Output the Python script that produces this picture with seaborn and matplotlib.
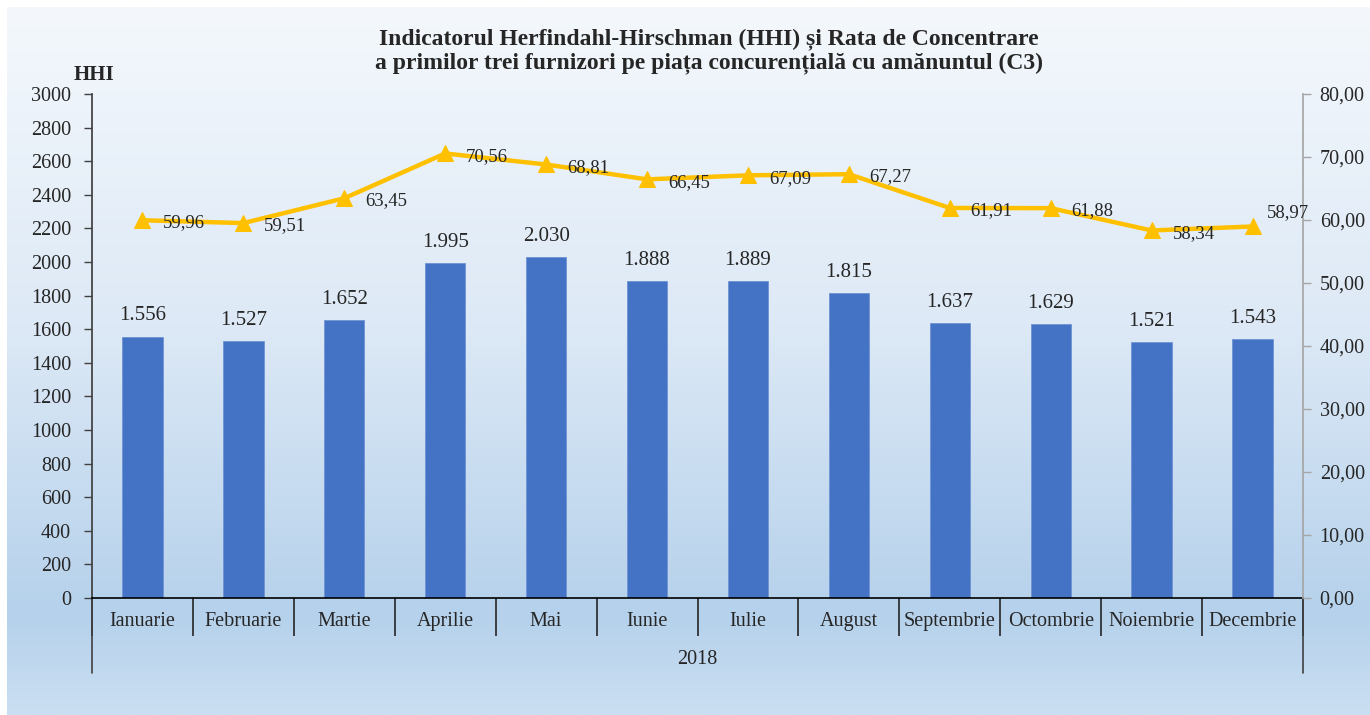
import numpy as np
import pandas as pd
import matplotlib
matplotlib.use("Agg")
import matplotlib.pyplot as plt
import seaborn as sns
from matplotlib.colors import LinearSegmentedColormap

# chart data
months = ['Ianuarie', 'Februarie', 'Martie', 'Aprilie', 'Mai', 'Iunie', 'Iulie',
          'August', 'Septembrie', 'Octombrie', 'Noiembrie', 'Decembrie']
hhi = [1556, 1527, 1652, 1995, 2030, 1888, 1889, 1815, 1637, 1629, 1521, 1543]
c3 = [59.96, 59.51, 63.45, 70.56, 68.81, 66.45, 67.09, 67.27, 61.91, 61.88, 58.34, 58.97]
year_label = '2018'
hhi_ticks = list(range(0, 3001, 200))
c3_ticks = list(range(0, 81, 10))

title = ('Indicatorul Herfindahl-Hirschman (HHI) și Rata de Concentrare\n'
         'a primilor trei furnizori pe piața concurențială cu amănuntul (C3)')

sns.set_theme(style="white")
plt.rcParams['font.family'] = ['Liberation Serif', 'DejaVu Serif']

W, H = 1370, 715
fig = plt.figure(figsize=(W / 100, H / 100), dpi=100)
fig.patch.set_facecolor('white')

# gradient background (top white-ish -> light blue)
bg = fig.add_axes([7 / W, 0, 1 - 7 / W, 1 - 7 / H], zorder=-10)
grad_cmap = LinearSegmentedColormap.from_list(
    'bg', [(0.0, '#f4f8fc'), (0.45, '#dde9f6'), (0.86, '#b5d1eb'), (1.0, '#cbdff2')])
bg.imshow(np.linspace(0, 1, 256).reshape(-1, 1), aspect='auto', cmap=grad_cmap,
          extent=[0, 1, 0, 1])
bg.set_axis_off()

left, right, top, bottom = 92, 1303, 94, 598
ax = fig.add_axes([left / W, 1 - bottom / H, (right - left) / W, (bottom - top) / H])
ax.patch.set_alpha(0)

df = pd.DataFrame({'luna': months, 'HHI': hhi, 'C3': c3})

sns.barplot(data=df, x='luna', y='HHI', color='#4472C4', width=0.4, saturation=1,
            edgecolor='#6f93d3', linewidth=0.6, ax=ax, zorder=2)
ax.set_ylim(0, 3000)
ax.set_xlim(-0.5, len(months) - 0.5)
ax.set_yticks(hhi_ticks)
ax.set_yticklabels([str(t) for t in hhi_ticks], fontsize=14.5)
ax.set_xlabel('')
ax.set_ylabel('')
ax.tick_params(axis='y', which='major', direction='out', length=6, width=1,
               color='#404040', pad=9, left=True)
ax.tick_params(axis='x', which='major', length=0, pad=10, labelsize=14.5)
ax.set_xticks(np.arange(-0.5, len(months), 1.0), minor=True)
ax.tick_params(axis='x', which='minor', direction='out', length=27, width=1.2,
               color='#262626', bottom=True)

for s in ['top', 'right']:
    ax.spines[s].set_visible(False)
ax.spines['left'].set_color('#404040')
ax.spines['bottom'].set_color('black')
ax.spines['bottom'].set_linewidth(1.2)

for i, v in enumerate(hhi):
    ax.annotate(f'{v:,}'.replace(',', '.'), (i, v), xytext=(0, 8),
                textcoords='offset points', ha='center', va='bottom', fontsize=15)

# lower category level lines and year label
ext = -75 / (bottom - top)
ax.plot([0, 0], [0, ext], transform=ax.transAxes, color='#404040', lw=1.2, clip_on=False)
ax.plot([1, 1], [0, ext], transform=ax.transAxes, color='#404040', lw=1.2, clip_on=False)
ax.text(0.5, -62 / (bottom - top), year_label, transform=ax.transAxes,
        ha='center', va='center', fontsize=14.5)

# secondary axis with C3
ax2 = ax.twinx()
sns.lineplot(x=np.arange(len(months)), y=c3, ax=ax2, color='#FFC000', linewidth=3.2,
             marker='^', markersize=12, markeredgecolor='#FFC000', zorder=3)
ax2.set_ylim(0, 80)
ax2.set_xlim(-0.5, len(months) - 0.5)
ax2.set_yticks(c3_ticks)
ax2.set_yticklabels([f'{t:.2f}'.replace('.', ',') for t in c3_ticks], fontsize=14.5)
ax2.tick_params(axis='y', direction='out', length=6, width=1, color='#a6a6a6',
                pad=6, right=True)
for s in ['top', 'left', 'bottom']:
    ax2.spines[s].set_visible(False)
ax2.spines['right'].set_color('#a6a6a6')

for i, v in enumerate(c3):
    off = (10, 10) if i == len(c3) - 1 else (15, -2)
    ax2.annotate(f'{v:.2f}'.replace('.', ','), (i, v), xytext=off,
                 textcoords='offset points', ha='left', va='center', fontsize=13.5)

fig.text(709 / W, 1 - 51 / H, title, ha='center', va='center', fontsize=17,
         fontweight='bold', linespacing=1.15)
fig.text(94 / W, 1 - 75 / H, 'HHI', ha='center', va='center', fontsize=15,
         fontweight='bold')

fig.savefig('out.png', dpi=100)
